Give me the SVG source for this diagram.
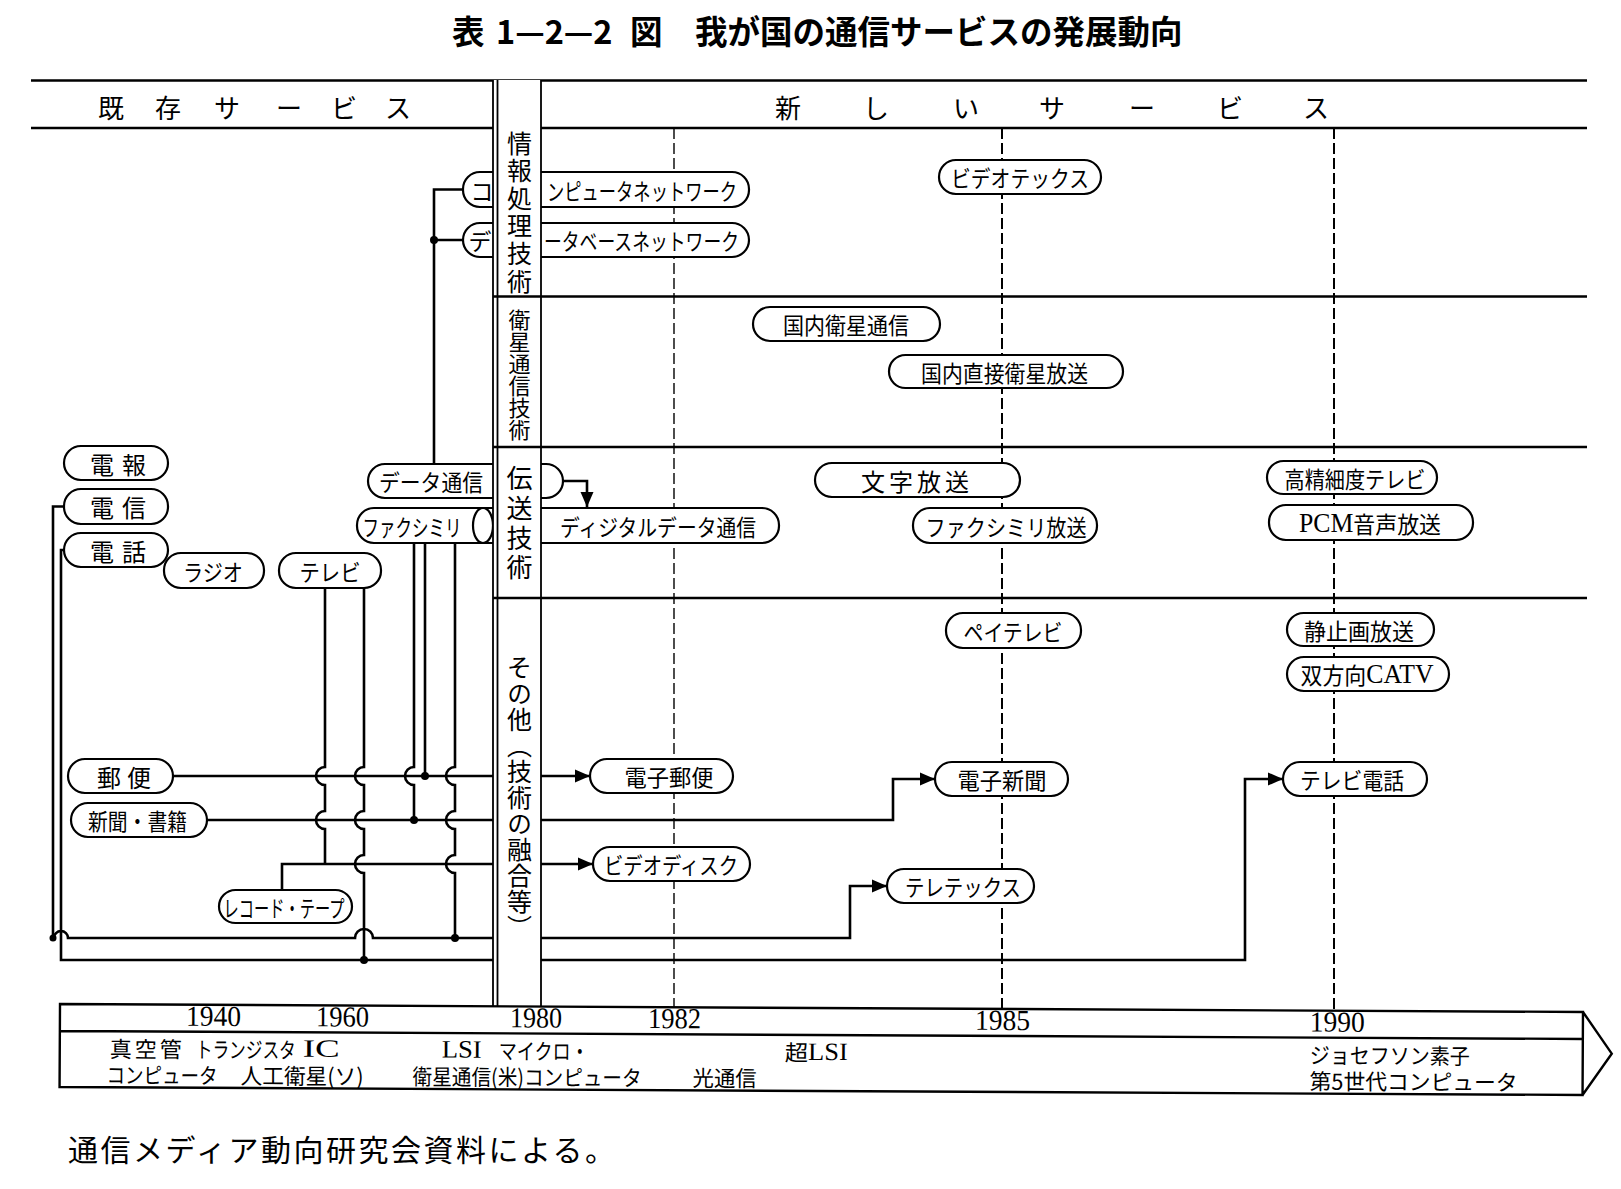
<svg xmlns="http://www.w3.org/2000/svg" width="1621" height="1189" viewBox="0 0 1621 1189">
<defs>
<style>
.pill{fill:#fff;stroke:#000;stroke-width:2.2}
.ln{fill:none;stroke:#000;stroke-width:2.6}
.rule{fill:none;stroke:#000;stroke-width:2.4}
.bl{fill:none;stroke:#000;stroke-width:1.8}
.dash{fill:none;stroke:#000;stroke-width:2;stroke-dasharray:11 4}
.dash1{fill:none;stroke:#000;stroke-width:1.4;stroke-dasharray:11 4}
.dot{fill:#000}
text{font-family:"Noto Sans CJK JP","Noto Sans CJK SC",sans-serif;fill:#000}
.t{dominant-baseline:central;text-anchor:middle}
.s{font-family:"Liberation Serif","Times New Roman",serif}
.vt{writing-mode:vertical-rl;text-anchor:middle}
</style>
<marker id="ah" markerUnits="userSpaceOnUse" markerWidth="16" markerHeight="14" refX="15" refY="7" orient="auto" viewBox="0 0 16 14">
<path d="M0,0.5 L15,7 L0,13.5 Z" fill="#000"/>
</marker>
</defs>
<rect width="1621" height="1189" fill="#fff"/>

<g id="title">
<text font-size="32.5" font-weight="700" dominant-baseline="central" y="29"><tspan x="452">表</tspan><tspan x="496">1—2—2</tspan><tspan x="630">図</tspan><tspan x="695">我が国の通信サービスの発展動向</tspan></text>
</g>

<g id="header">
<path class="rule" d="M31,80.5 H1587 M31,128 H1587"/>
<text class="t" font-size="26" y="106" x="111 168 227 289 344 398">既存サービス</text>
<text class="t" font-size="26" y="106" x="788 876 966 1052 1142 1230 1316">新しいサービス</text>
</g>

<g id="year-lines">
<path class="dash1" d="M674,128 V1007"/>
<path class="dash" d="M1002,128 V1009"/>
<path class="dash" d="M1334,128 V1011"/>
</g>

<g id="connectors">
<path class="ln" d="M463,189.5 H434 V464 M434,240 H463"/>
<path class="ln" d="M563,481 H587 V507" marker-end="url(#ah)"/>
<path class="ln" d="M64,506.5 H53 V938 H54 A7,7 0 0 1 68,938 H355 A9,9 0 0 1 373,938 H850 V886 H887" marker-end="url(#ah)"/>
<path class="ln" d="M64,550 H61 V960 H1245 V779 H1283" marker-end="url(#ah)"/>
<path class="ln" d="M325,588 V767 A9,9 0 0 0 325,785 V811 A9,9 0 0 0 325,829 V864"/>
<path class="ln" d="M364,588 V767 A9,9 0 0 0 364,785 V811 A9,9 0 0 0 364,829 V855 A9,9 0 0 0 364,873 V960"/>
<path class="ln" d="M414,543 V767 A9,9 0 0 0 414,785 V820"/>
<path class="ln" d="M425,543 V776"/>
<path class="ln" d="M455,543 V767 A9,9 0 0 0 455,785 V811 A9,9 0 0 0 455,829 V855 A9,9 0 0 0 455,873 V938"/>
<path class="ln" d="M173,776 H590" marker-end="url(#ah)"/>
<path class="ln" d="M207,820 H893 V779 H935" marker-end="url(#ah)"/>
<path class="ln" d="M282,890 V864 H593" marker-end="url(#ah)"/>
<circle class="dot" cx="434" cy="240" r="4"/>
<circle class="dot" cx="425" cy="776" r="4"/>
<circle class="dot" cx="414" cy="820" r="4"/>
<circle class="dot" cx="455" cy="938" r="4"/>
<circle class="dot" cx="364" cy="960" r="4"/>
<circle class="dot" cx="53" cy="938" r="3.5"/>
</g>

<g id="n-denpo" font-size="24"><rect class="pill" x="64" y="446" width="104" height="34" rx="17"/><text class="t" x="102 134" y="463">電報</text></g>
<g id="n-denshin" font-size="24"><rect class="pill" x="64" y="489" width="104" height="35" rx="17"/><text class="t" x="102 134" y="506.5">電信</text></g>
<g id="n-denwa" font-size="24"><rect class="pill" x="64" y="533" width="104" height="34" rx="17"/><text class="t" x="102 134" y="550">電話</text></g>
<g id="n-radio" font-size="23"><rect class="pill" x="164" y="553" width="100" height="35" rx="17"/><text class="t" x="213" y="570.5" textLength="60" lengthAdjust="spacingAndGlyphs">ラジオ</text></g>
<g id="n-tv" font-size="23"><rect class="pill" x="279" y="553" width="102" height="35" rx="17"/><text class="t" x="330" y="570.5" textLength="61" lengthAdjust="spacingAndGlyphs">テレビ</text></g>
<g id="n-data" font-size="23"><rect class="pill" x="368" y="464" width="195" height="34" rx="17"/><text class="t" x="431" y="481" textLength="104" lengthAdjust="spacingAndGlyphs">データ通信</text></g>
<g id="n-fax" font-size="23"><rect class="pill" x="357" y="508" width="170" height="35" rx="17"/><ellipse class="pill" cx="483" cy="525.5" rx="10" ry="17.5"/><text class="t" x="412" y="525.5" textLength="99" lengthAdjust="spacingAndGlyphs">ファクシミリ</text></g>
<g id="n-digital" font-size="23"><rect class="pill" x="510" y="508" width="269" height="35" rx="17"/><text class="t" x="658" y="525.5" textLength="196" lengthAdjust="spacingAndGlyphs">ディジタルデータ通信</text></g>
<g id="n-compnet" font-size="23"><rect class="pill" x="463" y="172" width="286" height="35" rx="17"/><text class="t" x="482" y="189.5">コ</text><text class="t" x="642" y="189.5" textLength="190" lengthAdjust="spacingAndGlyphs">ンピュータネットワーク</text></g>
<g id="n-dbnet" font-size="23"><rect class="pill" x="463" y="223" width="286" height="34" rx="17"/><text class="t" x="480" y="240">デ</text><text class="t" x="641.5" y="240" textLength="195" lengthAdjust="spacingAndGlyphs">ータベースネットワーク</text></g>
<g id="n-videotex" font-size="23"><rect class="pill" x="939" y="160" width="162" height="34" rx="17"/><text class="t" x="1020" y="177" textLength="138" lengthAdjust="spacingAndGlyphs">ビデオテックス</text></g>
<g id="n-kokunai-eisei" font-size="23"><rect class="pill" x="753" y="307" width="187" height="34" rx="17"/><text class="t" x="846" y="324" textLength="126" lengthAdjust="spacingAndGlyphs">国内衛星通信</text></g>
<g id="n-chokusetsu" font-size="23"><rect class="pill" x="889" y="355" width="234" height="33" rx="16.5"/><text class="t" x="1004.5" y="371.5" textLength="167" lengthAdjust="spacingAndGlyphs">国内直接衛星放送</text></g>
<g id="n-moji" font-size="24"><rect class="pill" x="815" y="463" width="205" height="34" rx="17"/><text class="t" x="915" y="480" textLength="108" lengthAdjust="spacing">文字放送</text></g>
<g id="n-faxhoso" font-size="23"><rect class="pill" x="913" y="508" width="184" height="35" rx="17"/><text class="t" x="1006" y="525.5" textLength="161" lengthAdjust="spacingAndGlyphs">ファクシミリ放送</text></g>
<g id="n-hdtv" font-size="23"><rect class="pill" x="1267" y="461" width="170" height="33" rx="16.5"/><text class="t" x="1355" y="477.5" textLength="141" lengthAdjust="spacingAndGlyphs">高精細度テレビ</text></g>
<g id="n-pcm" font-size="23"><rect class="pill" x="1269" y="505" width="204" height="35" rx="17"/><text class="t" x="1370" y="522.5" textLength="142" lengthAdjust="spacingAndGlyphs"><tspan class="s" font-size="27">PCM</tspan>音声放送</text></g>
<g id="n-pay" font-size="23"><rect class="pill" x="946" y="613" width="135" height="35" rx="17"/><text class="t" x="1013" y="630.5" textLength="99" lengthAdjust="spacingAndGlyphs">ペイテレビ</text></g>
<g id="n-seishiga" font-size="23"><rect class="pill" x="1287" y="613" width="147" height="33" rx="16.5"/><text class="t" x="1359" y="629.5" textLength="110" lengthAdjust="spacingAndGlyphs">静止画放送</text></g>
<g id="n-catv" font-size="23"><rect class="pill" x="1287" y="657" width="162" height="34" rx="17"/><text class="t" x="1367" y="674" textLength="133" lengthAdjust="spacingAndGlyphs">双方向<tspan class="s" font-size="27">CATV</tspan></text></g>
<g id="n-yubin" font-size="24"><rect class="pill" x="68" y="759" width="105" height="34" rx="17"/><text class="t" x="109 139" y="776">郵便</text></g>
<g id="n-shinbun" font-size="23"><rect class="pill" x="71" y="803" width="136" height="34" rx="17"/><text class="t" x="137.5" y="820" textLength="99" lengthAdjust="spacingAndGlyphs">新聞・書籍</text></g>
<g id="n-record" font-size="23"><rect class="pill" x="219" y="890" width="133" height="33" rx="16.5"/><text class="t" x="284" y="906.5" textLength="121" lengthAdjust="spacingAndGlyphs">レコード・テープ</text></g>
<g id="n-denshi-yubin" font-size="23"><rect class="pill" x="590" y="759" width="143" height="34" rx="17"/><text class="t" x="669" y="776" textLength="89" lengthAdjust="spacingAndGlyphs">電子郵便</text></g>
<g id="n-denshi-shinbun" font-size="23"><rect class="pill" x="935" y="762" width="133" height="34" rx="17"/><text class="t" x="1002" y="779" textLength="89" lengthAdjust="spacingAndGlyphs">電子新聞</text></g>
<g id="n-videodisc" font-size="23"><rect class="pill" x="593" y="847" width="157" height="34" rx="17"/><text class="t" x="671" y="864" textLength="134" lengthAdjust="spacingAndGlyphs">ビデオディスク</text></g>
<g id="n-teletex" font-size="23"><rect class="pill" x="887" y="869" width="147" height="34" rx="17"/><text class="t" x="963" y="886" textLength="116" lengthAdjust="spacingAndGlyphs">テレテックス</text></g>
<g id="n-tvphone" font-size="23"><rect class="pill" x="1283" y="762" width="144" height="34" rx="17"/><text class="t" x="1352" y="779" textLength="104" lengthAdjust="spacingAndGlyphs">テレビ電話</text></g>

<g id="band">
<rect x="493" y="80" width="48" height="926" fill="#fff"/>
<path class="bl" d="M493,80 V1006 M497.5,80 V1006 M541,80 V1006"/>
<path class="rule" d="M493,296.5 H1587 M493,447 H1587 M493,598 H1587"/>
<text class="vt" x="519.5" y="212" font-size="25" textLength="163" lengthAdjust="spacing">情報処理技術</text>
<text class="vt" x="519.5" y="375" font-size="22" textLength="132" lengthAdjust="spacing">衛星通信技術</text>
<text class="vt" x="519.5" y="523" font-size="26" textLength="115" lengthAdjust="spacing">伝送技術</text>
<text class="vt" x="519.5" y="797" font-size="25" textLength="285" lengthAdjust="spacing">その他（技術の融合等）</text>
</g>

<g id="timeline" transform="rotate(0.3 60 1004)">
<path class="rule" d="M60,1004 H1583 V1087 H60 Z M60,1031 H1583 M1583,1004 L1612,1045.5 L1583,1087"/>
<g class="s" font-size="29" dominant-baseline="central">
<text class="s" x="186" y="1015" textLength="55" lengthAdjust="spacingAndGlyphs">1940</text>
<text class="s" x="316" y="1015" textLength="53" lengthAdjust="spacingAndGlyphs">1960</text>
<text class="s" x="510" y="1015" textLength="52" lengthAdjust="spacingAndGlyphs">1980</text>
<text class="s" x="648" y="1015" textLength="53" lengthAdjust="spacingAndGlyphs">1982</text>
<text class="s" x="975" y="1015" textLength="55" lengthAdjust="spacingAndGlyphs">1985</text>
<text class="s" x="1310" y="1015" textLength="55" lengthAdjust="spacingAndGlyphs">1990</text>
</g>
<g font-size="22" dominant-baseline="central">
<text x="110" y="1047" textLength="72" lengthAdjust="spacing">真空管</text>
<text x="196" y="1047" textLength="100" lengthAdjust="spacingAndGlyphs">トランジスタ</text>
<text class="s" x="303" y="1047" font-size="25" textLength="37" lengthAdjust="spacingAndGlyphs">IC</text>
<text class="s" x="442" y="1047" font-size="25" textLength="40" lengthAdjust="spacingAndGlyphs">LSI</text>
<text x="499" y="1047" textLength="90" lengthAdjust="spacingAndGlyphs">マイクロ・</text>
<text x="785" y="1047" textLength="63" lengthAdjust="spacingAndGlyphs">超<tspan class="s" font-size="25">LSI</tspan></text>
<text x="1310" y="1047" textLength="160" lengthAdjust="spacingAndGlyphs">ジョセフソン素子</text>
<text x="107" y="1073" textLength="111" lengthAdjust="spacingAndGlyphs">コンピュータ</text>
<text x="241" y="1073" textLength="123" lengthAdjust="spacingAndGlyphs">人工衛星(ソ)</text>
<text x="413" y="1073" textLength="229" lengthAdjust="spacingAndGlyphs">衛星通信(米)コンピュータ</text>
<text x="693" y="1073" textLength="64" lengthAdjust="spacingAndGlyphs">光通信</text>
<text x="1310" y="1073" textLength="208" lengthAdjust="spacingAndGlyphs">第5世代コンピュータ</text>
</g>
</g>

<g id="footer">
<text x="68" y="1148" font-size="30" dominant-baseline="central" textLength="547" lengthAdjust="spacing">通信メディア動向研究会資料による。</text>
</g>
</svg>
